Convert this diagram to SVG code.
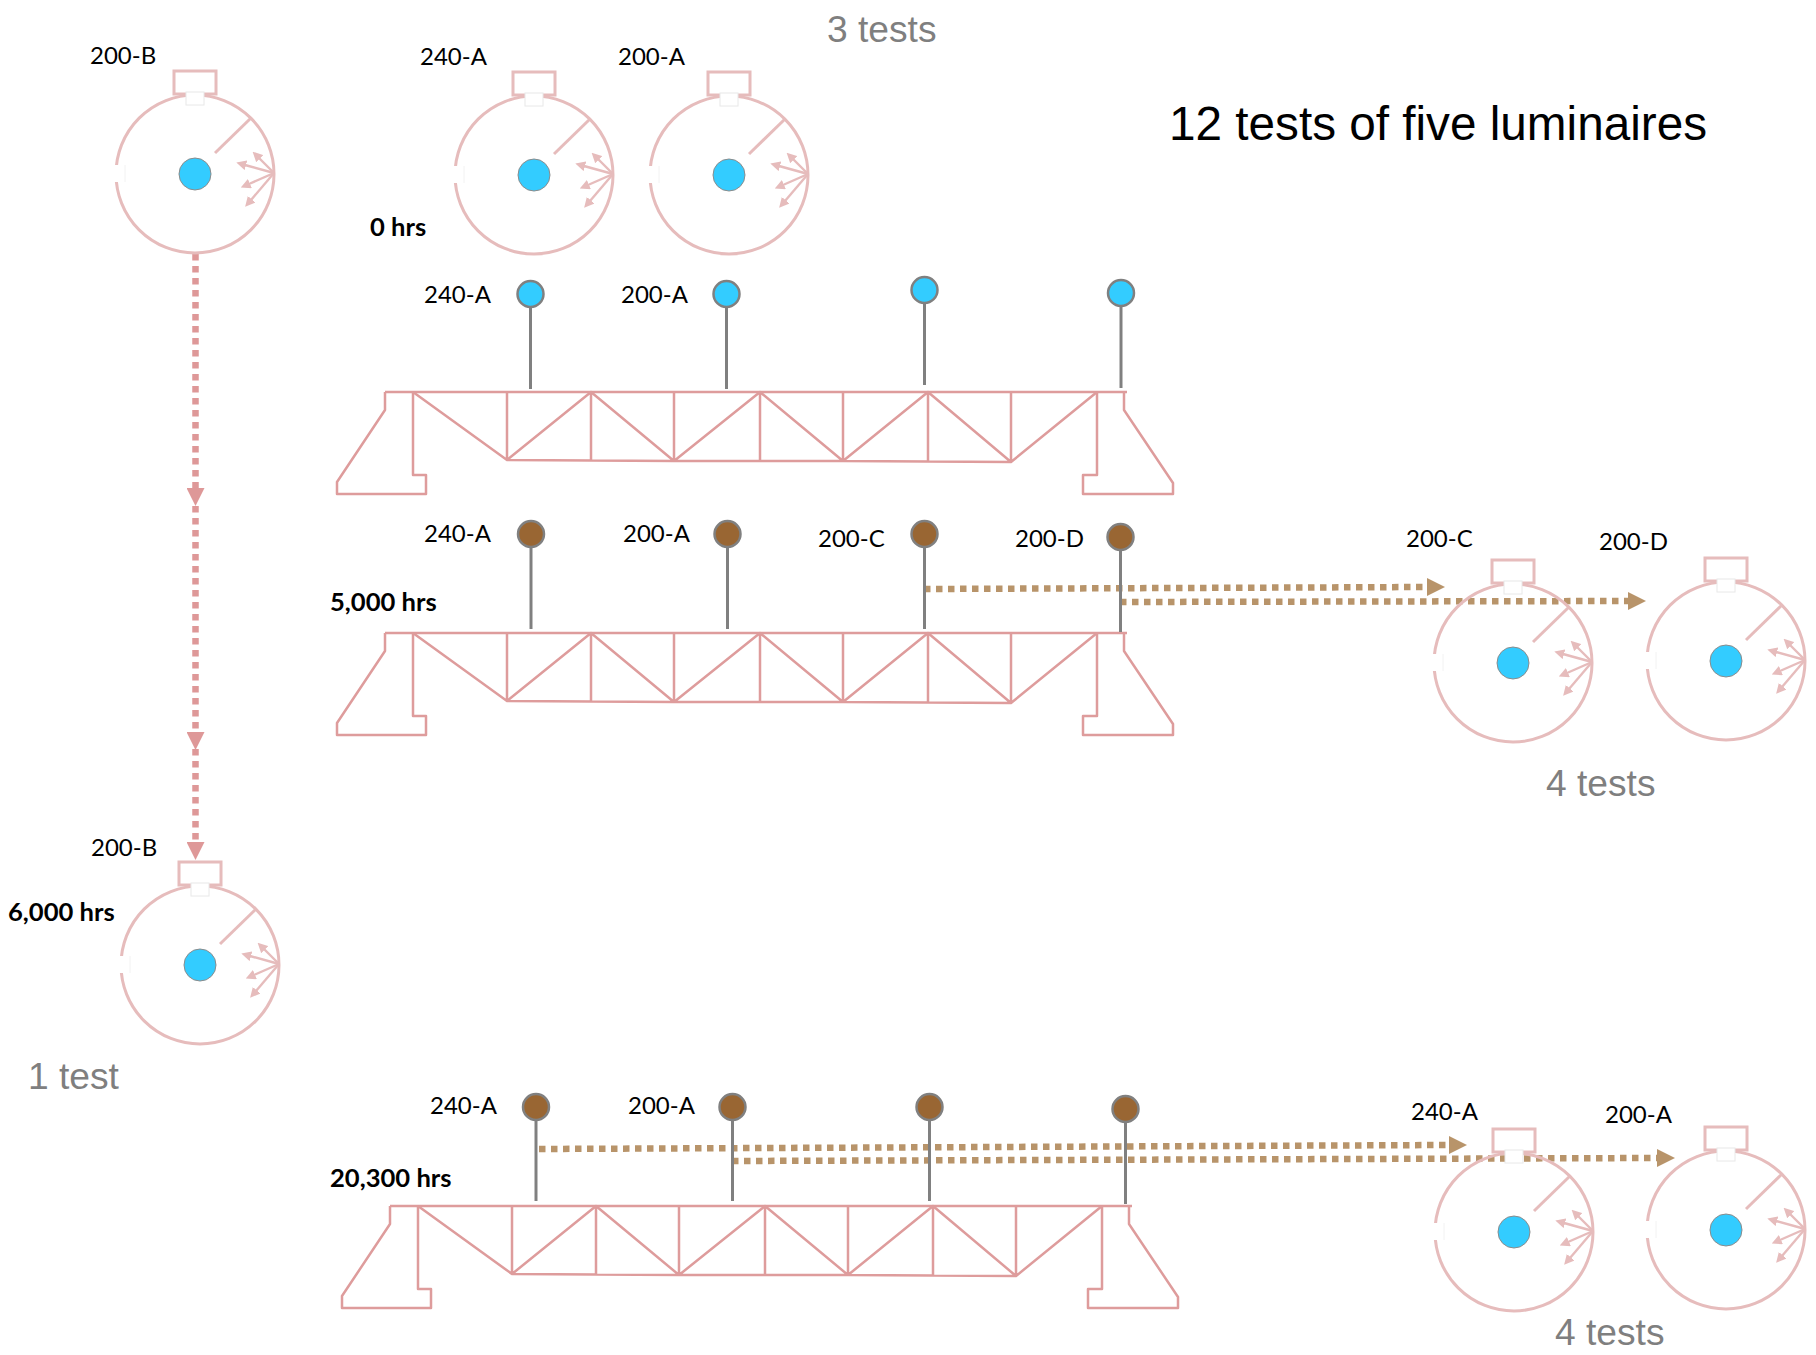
<svg xmlns="http://www.w3.org/2000/svg" xmlns:xlink="http://www.w3.org/1999/xlink" width="1816" height="1355" viewBox="0 0 1816 1355">
<style>
text{font-family:"Lato","Carlito","Liberation Sans",sans-serif;font-size:24px;fill:#000}
.b{font-weight:700;font-size:25.6px}
.t{font-family:"Liberation Sans",Arial,sans-serif;font-size:37.2px;fill:#7f7f7f}
.h{font-family:"Liberation Sans",Arial,sans-serif;font-size:47.7px;fill:#000}
.tr{fill:none;stroke:#de9c9c;stroke-width:2.5;stroke-linejoin:round}
.lum{fill:none;stroke:#e6bcbc;stroke-width:3}
.lam{fill:#33ccff;stroke:#8c8c8c;stroke-width:1}
.ar{stroke:#e6bcbc;stroke-width:2.4;marker-end:url(#mL)}
.pole{stroke:#808080;stroke-width:3}
.bulb{stroke:#808080;stroke-width:2.5}
.blue{fill:#33ccff}.brown{fill:#996633}
.dp{fill:none;stroke:#de9898;stroke-width:6.5;stroke-dasharray:6.5 5.5;marker-end:url(#mP)}
.db{fill:none;stroke:#b8946a;stroke-width:6.5;stroke-dasharray:6.5 5.5;marker-end:url(#mB)}
</style>
<defs>
<marker id="mL" markerUnits="userSpaceOnUse" markerWidth="10" markerHeight="10" refX="1" refY="5" orient="auto"><path d="M0 0L10 5L0 10Z" fill="#e6bcbc"/></marker>
<marker id="mP" markerUnits="userSpaceOnUse" markerWidth="18" markerHeight="18" refX="0" refY="9" orient="auto"><path d="M0 0L18 9L0 18Z" fill="#de9898"/></marker>
<marker id="mB" markerUnits="userSpaceOnUse" markerWidth="18" markerHeight="18" refX="0" refY="9" orient="auto"><path d="M0 0L18 9L0 18Z" fill="#b8946a"/></marker>
<g id="lumin">
<circle class="lum" r="79"/>
<rect class="lum" x="-21" y="-103" width="42" height="23"/>
<rect x="-9" y="-82" width="18" height="13" fill="#fff" stroke="#e8e8e8" stroke-width="1"/>
<rect x="-87" y="-9" width="17" height="17" fill="#fff"/>
<line x1="-70" y1="-9" x2="-70" y2="8" stroke="#f2f2f2" stroke-width="1"/>
<line class="lum" x1="20" y1="-21" x2="56" y2="-56"/>
<line class="ar" x1="79" y1="-1" x2="64" y2="-16"/>
<line class="ar" x1="79" y1="-1" x2="50" y2="-9"/>
<line class="ar" x1="79" y1="-1" x2="54" y2="10"/>
<line class="ar" x1="79" y1="-1" x2="56" y2="26"/>
<circle class="lam" r="16"/>
</g>
<g id="truss">
<path class="tr" d="M385 392H1127M1124 392V410L1173 483V494H1083V475H1097V392M385 392V410L337 482V494H426V475H413V392"/>
<path class="tr" d="M413 392L507 460L591 392L674 461L760 392L843 461L928 392L1011 462L1097 392M507 460L674 461L843 461L1011 462M507 392V460M591 392V460M674 392V461M760 392V461M843 392V461M928 392V462M1011 392V462"/>
</g>
</defs>

<g id="connectors">
<path class="dp" d="M195.5 254V488"/>
<path class="dp" d="M195.5 506V732"/>
<path class="dp" d="M195.5 749V842"/>
<path class="db" d="M924 589L1427 587"/>
<path class="db" d="M1120 602L1628 601"/>
<path class="db" d="M539 1149L1449 1145"/>
<path class="db" d="M732 1161L1657 1158"/>
</g>

<g id="truss-0"><use href="#truss"/></g>
<g id="truss-5000"><use href="#truss" y="241"/></g>
<g id="truss-20300"><use href="#truss" x="5" y="814"/></g>

<g id="lum-200-B-0"><use href="#lumin" x="195" y="174"/><text x="90" y="64">200-B</text></g>
<g id="lum-240-A-0"><use href="#lumin" x="534" y="175"/><text x="420" y="65">240-A</text></g>
<g id="lum-200-A-0"><use href="#lumin" x="729" y="175"/><text x="618" y="65">200-A</text></g>
<g id="lum-200-B-6000"><use href="#lumin" x="200" y="965"/><text x="91" y="856">200-B</text></g>
<g id="lum-200-C"><use href="#lumin" x="1513" y="663"/><text x="1406" y="547">200-C</text></g>
<g id="lum-200-D"><use href="#lumin" x="1726" y="661"/><text x="1599" y="550">200-D</text></g>
<g id="lum-240-A-20300"><use href="#lumin" x="1514" y="1232"/><text x="1411" y="1120">240-A</text></g>
<g id="lum-200-A-20300"><use href="#lumin" x="1726" y="1230"/><text x="1605" y="1123">200-A</text></g>

<g id="row-0">
<g id="p0-1"><line class="pole" x1="530.5" y1="294" x2="530.5" y2="389"/><circle class="bulb blue" cx="530.5" cy="294" r="13"/><text x="424" y="303">240-A</text></g>
<g id="p0-2"><line class="pole" x1="726.5" y1="294" x2="726.5" y2="389"/><circle class="bulb blue" cx="726.5" cy="294" r="13"/><text x="621" y="303">200-A</text></g>
<g id="p0-3"><line class="pole" x1="924.5" y1="290" x2="924.5" y2="385"/><circle class="bulb blue" cx="924.5" cy="290" r="13"/></g>
<g id="p0-4"><line class="pole" x1="1121" y1="293" x2="1121" y2="388"/><circle class="bulb blue" cx="1121" cy="293" r="13"/></g>
</g>
<g id="row-5000">
<g id="p1-1"><line class="pole" x1="531" y1="534" x2="531" y2="629"/><circle class="bulb brown" cx="531" cy="534" r="13"/><text x="424" y="542">240-A</text></g>
<g id="p1-2"><line class="pole" x1="727.5" y1="534" x2="727.5" y2="629"/><circle class="bulb brown" cx="727.5" cy="534" r="13"/><text x="623" y="542">200-A</text></g>
<g id="p1-3"><line class="pole" x1="924.5" y1="534" x2="924.5" y2="629"/><circle class="bulb brown" cx="924.5" cy="534" r="13"/><text x="818" y="547">200-C</text></g>
<g id="p1-4"><line class="pole" x1="1120.5" y1="537" x2="1120.5" y2="632"/><circle class="bulb brown" cx="1120.5" cy="537" r="13"/><text x="1015" y="547">200-D</text></g>
</g>
<g id="row-20300">
<g id="p2-1"><line class="pole" x1="536" y1="1107" x2="536" y2="1201"/><circle class="bulb brown" cx="536" cy="1107" r="13"/><text x="430" y="1114">240-A</text></g>
<g id="p2-2"><line class="pole" x1="732.5" y1="1107" x2="732.5" y2="1201"/><circle class="bulb brown" cx="732.5" cy="1107" r="13"/><text x="628" y="1114">200-A</text></g>
<g id="p2-3"><line class="pole" x1="929.5" y1="1107" x2="929.5" y2="1201"/><circle class="bulb brown" cx="929.5" cy="1107" r="13"/></g>
<g id="p2-4"><line class="pole" x1="1125.5" y1="1109" x2="1125.5" y2="1204"/><circle class="bulb brown" cx="1125.5" cy="1109" r="13"/></g>
</g>

<g id="labels">
<text class="h" x="1169" y="140">12 tests of five luminaires</text>
<text class="t" x="827" y="42">3 tests</text>
<text class="t" x="1546" y="796">4 tests</text>
<text class="t" x="1555" y="1345">4 tests</text>
<text class="t" x="28" y="1089">1 test</text>
<text class="b" x="370" y="236">0 hrs</text>
<text class="b" x="330" y="611">5,000 hrs</text>
<text class="b" x="330" y="1187">20,300 hrs</text>
<text class="b" x="8" y="921">6,000 hrs</text>
</g>
</svg>
